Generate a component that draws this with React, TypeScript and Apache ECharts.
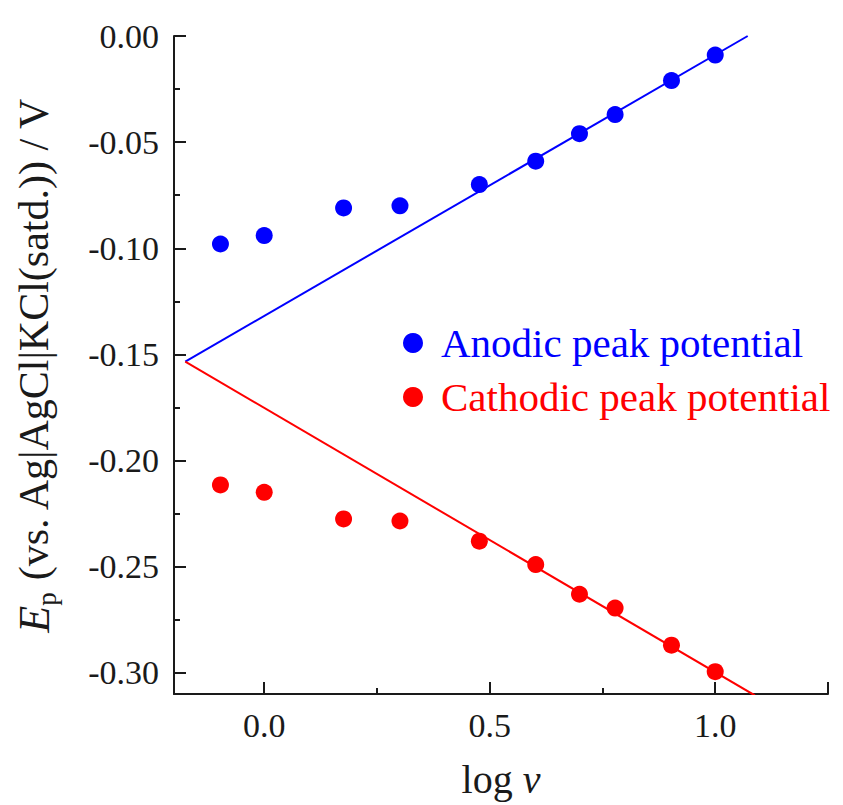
import React, { useEffect, useRef } from "react";
import * as echarts from "echarts";

const logScanRate = [-0.097, 0.0, 0.176, 0.301, 0.477, 0.602, 0.699, 0.778, 0.903, 1.0];
const anodicPeak = [-0.098, -0.094, -0.081, -0.080, -0.070, -0.059, -0.046, -0.037, -0.021, -0.009];
const cathodicPeak = [-0.2115, -0.215, -0.2275, -0.2285, -0.238, -0.249, -0.263, -0.2695, -0.287, -0.2995];
const anodicFitX = [-0.175, 1.072];
const anodicFitY = [-0.1534, 0.0];
const cathodicFitX = [-0.175, 1.088];
const cathodicFitY = [-0.1534, -0.3107];
const seriesNames = ["Anodic peak potential", "Cathodic peak potential"];
const seriesColors = ["#0000ff", "#ff0000"];

const FONT = "'Liberation Serif', 'Times New Roman', serif";
const INK = "#1a1a1a";

function pairs(xs: number[], ys: number[]) {
  return xs.map((x, i) => [x, ys[i]]);
}

export default function App() {
  const ref = useRef<HTMLDivElement>(null);
  useEffect(() => {
    if (!ref.current) return;
    const chart = echarts.init(ref.current, null, { renderer: "svg" });
    const axisCommon = {
      axisLine: { show: true, onZero: false, lineStyle: { color: INK, width: 2 } },
      axisTick: { show: true, inside: true, length: 12, lineStyle: { color: INK, width: 2 } },
      minorTick: { show: true, splitNumber: 2, length: 6, lineStyle: { color: INK, width: 2 } },
      splitLine: { show: false },
      minorSplitLine: { show: false },
    };
    chart.setOption({
      animation: false,
      backgroundColor: "#ffffff",
      grid: { left: 170, right: 15, top: 36, bottom: 111, containLabel: false },
      legend: {
        orient: "vertical",
        left: 398,
        top: 316,
        itemWidth: 46,
        itemHeight: 20,
        itemGap: 10,
        icon: "circle",
        data: seriesNames.map((n, i) => ({
          name: n,
          itemStyle: { color: seriesColors[i] },
          textStyle: { color: seriesColors[i], fontSize: 41, fontFamily: FONT, lineHeight: 44 },
        })),
        textStyle: { fontSize: 41, fontFamily: FONT, lineHeight: 44, padding: 0 },
      },
      xAxis: {
        type: "value",
        min: -0.2,
        max: 1.25,
        splitNumber: 3,
        ...axisCommon,
        axisLabel: {
          margin: 14,
          fontSize: 34,
          fontFamily: FONT,
          color: INK,
          showMinLabel: false,
          showMaxLabel: false,
          formatter: (v: number) =>
            Math.abs(v * 2 - Math.round(v * 2)) < 1e-6 ? v.toFixed(1) : "",
        },
        name: "log {i|ν}",
        nameLocation: "middle",
        nameGap: 65,
        nameTextStyle: {
          fontSize: 40,
          fontFamily: FONT,
          color: INK,
          rich: { i: { fontSize: 40, fontFamily: FONT, fontStyle: "italic", color: INK } },
        },
      },
      yAxis: {
        type: "value",
        min: -0.31,
        max: 0,
        splitNumber: 6,
        ...axisCommon,
        axisLabel: {
          margin: 15,
          fontSize: 34,
          fontFamily: FONT,
          color: INK,
          showMinLabel: false,
          formatter: (v: number) =>
            Math.abs(v * 20 - Math.round(v * 20)) < 1e-6 ? v.toFixed(2) : "",
        },
        name: "{e|E}{p|p} (vs. Ag|AgCl|KCl(satd.)) / V",
        nameLocation: "middle",
        nameRotate: 90,
        nameGap: 114,
        nameTextStyle: {
          fontSize: 42,
          fontFamily: FONT,
          color: INK,
          lineHeight: 52,
          padding: [0, 0, 0, 0],
          rich: {
            e: { fontSize: 44, fontFamily: FONT, fontStyle: "italic", color: INK, lineHeight: 52 },
            p: { fontSize: 27, fontFamily: FONT, color: INK, verticalAlign: "bottom", lineHeight: 52 },
          },
        },
      },
      series: [
        {
          name: "Anodic fit",
          type: "line",
          data: pairs(anodicFitX, anodicFitY),
          showSymbol: false,
          symbol: "none",
          lineStyle: { color: seriesColors[0], width: 2 },
          z: 2,
          silent: true,
        },
        {
          name: "Cathodic fit",
          type: "line",
          data: pairs(cathodicFitX, cathodicFitY),
          showSymbol: false,
          symbol: "none",
          lineStyle: { color: seriesColors[1], width: 2 },
          z: 2,
          silent: true,
        },
        {
          name: seriesNames[0],
          type: "scatter",
          data: pairs(logScanRate, anodicPeak),
          symbol: "circle",
          symbolSize: 17,
          itemStyle: { color: seriesColors[0], opacity: 1 },
          z: 3,
        },
        {
          name: seriesNames[1],
          type: "scatter",
          data: pairs(logScanRate, cathodicPeak),
          symbol: "circle",
          symbolSize: 17,
          itemStyle: { color: seriesColors[1], opacity: 1 },
          z: 3,
        },
      ],
    });
    return () => chart.dispose();
  }, []);
  return (
    <div
      ref={ref}
      style={{ position: "fixed", left: 0, top: 0, width: 843, height: 805, background: "#fff" }}
    />
  );
}
